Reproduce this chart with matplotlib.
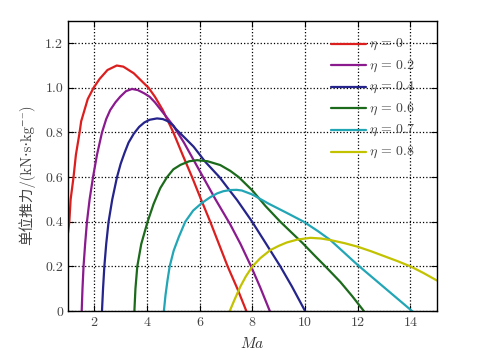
import matplotlib
matplotlib.use("Agg")
import matplotlib.pyplot as plt

plt.rcParams['font.family'] = ['cmr10', 'DejaVu Serif', 'Noto Sans CJK SC']
plt.rcParams['mathtext.fontset'] = 'cm'
plt.rcParams['axes.unicode_minus'] = False
plt.rcParams['axes.formatter.use_mathtext'] = True

# ---- data ----
ma_eta00 = [1.0, 1.05, 1.1, 1.21, 1.3, 1.44, 1.5, 1.75, 1.97, 2.2, 2.5, 2.85, 3.1, 3.5, 3.8, 4.06, 4.3, 4.6, 4.8,
            5.0, 5.35, 5.71, 6.05, 6.4, 6.73, 7.06, 7.43, 7.77]
ft_eta00 = [0.35, 0.4, 0.5, 0.6, 0.7, 0.8, 0.85, 0.95, 1.0, 1.04, 1.08, 1.10, 1.095, 1.065, 1.03, 1.0, 0.96, 0.9, 0.85,
            0.8, 0.7, 0.6, 0.5, 0.4, 0.3, 0.2, 0.1, 0.0]

ma_eta02 = [1.52, 1.55, 1.59, 1.65, 1.72, 1.82, 1.95, 2.1, 2.29, 2.45, 2.6, 2.8, 2.98, 3.2, 3.43, 3.65, 3.9, 4.1, 4.3,
            4.6, 5.0, 5.4, 5.8, 6.2, 6.6, 7.15, 7.55, 7.95, 8.3, 8.66]
ft_eta02 = [0.0, 0.1, 0.2, 0.3, 0.4, 0.5, 0.6, 0.7, 0.8, 0.86, 0.9, 0.935, 0.96, 0.985, 0.995, 0.99, 0.975, 0.96, 0.935,
            0.89, 0.83, 0.755, 0.67, 0.585, 0.5, 0.39, 0.3, 0.2, 0.105, 0.0]

ma_eta04 = [2.29, 2.33, 2.38, 2.45, 2.54, 2.68, 2.86, 3.0, 3.15, 3.3, 3.5, 3.7, 3.9, 4.1, 4.38, 4.6, 4.8, 5.0, 5.1,
            5.4, 5.77, 6.2, 6.75, 7.17, 7.42, 7.99, 8.5, 9.06, 9.5, 10.0]
ft_eta04 = [0.0, 0.1, 0.2, 0.3, 0.4, 0.5, 0.6, 0.66, 0.71, 0.755, 0.795, 0.825, 0.845, 0.857, 0.863, 0.86, 0.85, 0.83, 0.815,
            0.78, 0.736, 0.67, 0.6, 0.535, 0.497, 0.4, 0.305, 0.2, 0.11, 0.0]

ma_eta06 = [3.52, 3.56, 3.63, 3.78, 4.02, 4.25, 4.5, 4.76, 5.0, 5.27, 5.6, 5.9, 6.3, 6.78, 7.16, 7.48, 8.0, 8.5, 9.06,
            9.5, 9.9, 10.35, 10.77, 11.34, 11.8, 12.23]
ft_eta06 = [0.0, 0.1, 0.2, 0.3, 0.4, 0.48, 0.55, 0.6, 0.635, 0.655, 0.671, 0.676, 0.671, 0.654, 0.628, 0.6, 0.54, 0.47, 0.4,
            0.35, 0.305, 0.25, 0.2, 0.13, 0.065, 0.0]

ma_eta07 = [4.64, 4.7, 4.78, 4.86, 5.01, 5.2, 5.45, 5.75, 6.09, 6.4, 6.66, 6.9, 7.16, 7.4, 7.6, 8.0, 8.6, 9.3, 9.95,
            10.5, 10.96, 12.0, 13.0, 14.06]
ft_eta07 = [0.0, 0.07, 0.14, 0.2, 0.27, 0.33, 0.4, 0.45, 0.485, 0.51, 0.527, 0.537, 0.542, 0.543, 0.54, 0.522, 0.482, 0.44, 0.4,
            0.357, 0.318, 0.206, 0.106, 0.0]

ma_eta08 = [7.14, 7.3, 7.54, 7.75, 8.0, 8.3, 8.68, 9.0, 9.3, 9.7, 10.2, 10.6, 10.96, 11.5, 12.0, 12.5, 13.0, 13.5, 14.0,
            14.5, 15.0]
ft_eta08 = [0.0, 0.045, 0.109, 0.155, 0.2, 0.237, 0.273, 0.292, 0.307, 0.32, 0.328, 0.325, 0.318, 0.304, 0.288, 0.268, 0.246,
            0.224, 0.2, 0.17, 0.137]

labels = [r'$\eta\,=\,0$', r'$\eta\,=\,0.2$', r'$\eta\,=\,0.4$', r'$\eta\,=\,0.6$', r'$\eta\,=\,0.7$', r'$\eta\,=\,0.8$']
colors = ['#dc1e1e', '#8a1a8e', '#24248c', '#1c6a1c', '#22a6b6', '#c2c200']

x_ticks = [2, 4, 6, 8, 10, 12, 14]
y_ticks = [0, 0.2, 0.4, 0.6, 0.8, 1.0, 1.2]
y_tick_labels = ['0', '0.2', '0.4', '0.6', '0.8', '1.0', '1.2']
y_label = '单位推力/(kN·s·kg⁻¹)'

series = [(ma_eta00, ft_eta00), (ma_eta02, ft_eta02), (ma_eta04, ft_eta04),
          (ma_eta06, ft_eta06), (ma_eta07, ft_eta07), (ma_eta08, ft_eta08)]

fig = plt.figure(figsize=(4.84, 3.6), dpi=100)
ax = fig.add_axes([0.1405, 0.136, 0.762, 0.806])

for (xs, ys), c, lab in zip(series, colors, labels):
    ax.plot(xs, ys, color=c, lw=1.6, label=lab, solid_capstyle='round', solid_joinstyle='round')

ax.set_xlim(1, 15)
ax.set_ylim(0, 1.3)
ax.set_xticks(x_ticks)
ax.set_yticks(y_ticks)
ax.set_yticklabels(y_tick_labels)
ax.grid(True, color='black', linestyle=':', linewidth=0.9)
ax.tick_params(direction='in', top=True, right=True, labelsize=10, labelcolor='#444444', length=4, width=0.8)
for s in ax.spines.values():
    s.set_linewidth(1.0)

ax.set_xlabel(r'$Ma$', fontsize=11, color='#333333', labelpad=5)
ax.set_ylabel(y_label, fontsize=10.5, color='#444444', labelpad=6,
              family=['cmr10', 'DejaVu Serif', 'Noto Sans CJK SC'])
ax.yaxis.set_label_coords(-0.088, 0.47)

leg = ax.legend(loc='upper right', bbox_to_anchor=(0.955, 0.965), frameon=False, fontsize=10,
                handlelength=2.5, handletextpad=0.2, labelspacing=0.45, borderaxespad=0)
for t in leg.get_texts():
    t.set_color('#444444')
for ln in leg.get_lines():
    ln.set_ydata([v - 1.2 for v in ln.get_ydata()])

fig.savefig('out.png', dpi=100)
